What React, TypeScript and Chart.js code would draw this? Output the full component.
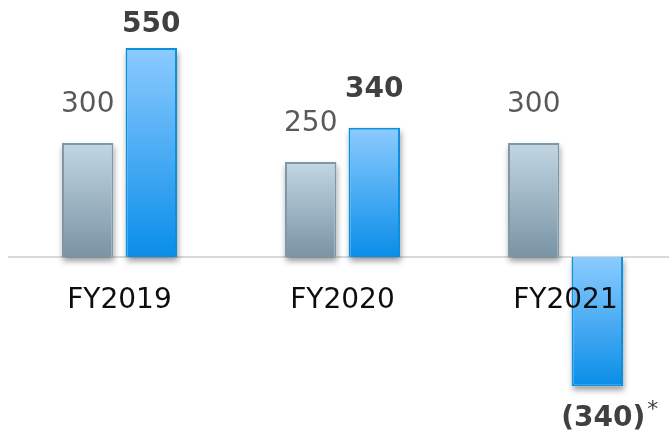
import React, { useEffect, useRef } from 'react';
import { Chart, registerables } from 'chart.js';

Chart.register(...registerables);

const categories = ['FY2019', 'FY2020', 'FY2021'];
const seriesPrior = [300, 250, 300];
const seriesCurrent = [550, 340, -340];
const currentNotes = ['', '', '*'];

const FONT = '"DejaVu Sans", Verdana, sans-serif';

function gradientFor(context: any, top: string, bottom: string) {
  const chart = context.chart;
  const { ctx, chartArea, scales } = chart;
  const v = context.raw;
  if (!chartArea || typeof v !== 'number') return top;
  const ys = scales.y;
  const y0 = ys.getPixelForValue(Math.max(v, 0));
  const y1 = ys.getPixelForValue(Math.min(v, 0));
  const g = ctx.createLinearGradient(0, y0, 0, y1);
  g.addColorStop(0, top);
  g.addColorStop(1, bottom);
  return g;
}

const zeroAndShadowPlugin = {
  id: 'zeroAndShadow',
  beforeDatasetsDraw(chart: any) {
    const { ctx, chartArea, scales } = chart;
    const y0 = scales.y.getPixelForValue(0);
    ctx.save();
    ctx.strokeStyle = '#d9d9d9';
    ctx.lineWidth = 2;
    ctx.beginPath();
    ctx.moveTo(chartArea.left, y0);
    ctx.lineTo(chartArea.right, y0);
    ctx.stroke();
    ctx.restore();
    chart.data.datasets.forEach((_ds: any, di: number) => {
      const meta = chart.getDatasetMeta(di);
      meta.data.forEach((bar: any) => {
        const { x, y, base, width } = bar.getProps(['x', 'y', 'base', 'width'], true);
        ctx.save();
        ctx.shadowColor = 'rgba(0,0,0,0.4)';
        ctx.shadowBlur = 6;
        ctx.shadowOffsetX = 1;
        ctx.shadowOffsetY = 4;
        ctx.fillStyle = '#ffffff';
        ctx.fillRect(x - width / 2, Math.min(y, base), width, Math.abs(base - y));
        ctx.restore();
      });
    });
  },
};

const labelPlugin = {
  id: 'valueLabels',
  afterDatasetsDraw(chart: any) {
    const { ctx } = chart;
    chart.data.datasets.forEach((ds: any, di: number) => {
      const meta = chart.getDatasetMeta(di);
      meta.data.forEach((bar: any, i: number) => {
        const v = ds.data[i];
        const { x, y } = bar.getProps(['x', 'y'], true);
        const bold = di === 1;
        ctx.save();
        ctx.font = `${bold ? 'bold ' : ''}28px ${FONT}`;
        ctx.fillStyle = bold ? '#404040' : '#595959';
        ctx.textAlign = 'center';
        ctx.textBaseline = 'alphabetic';
        if (v >= 0) {
          const baseline = Math.max(y - 31, 32);
          ctx.fillText(String(v), x, baseline);
        } else {
          const txt = `(${Math.abs(v)})`;
          const baseline = y + 40;
          const cx = x + 6;
          ctx.fillText(txt, cx, baseline);
          const note = bold ? currentNotes[i] : '';
          if (note) {
            const w = ctx.measureText(txt).width;
            ctx.font = `22px ${FONT}`;
            ctx.textAlign = 'left';
            ctx.fillText(note, cx + w / 2 + 2, baseline - 10);
          }
        }
        ctx.restore();
      });
    });
  },
};

export default function App() {
  const ref = useRef<HTMLCanvasElement | null>(null);

  useEffect(() => {
    if (!ref.current) return;
    const chart = new Chart(ref.current, {
      type: 'bar',
      data: {
        labels: categories,
        datasets: [
          {
            label: 'Prior',
            data: seriesPrior,
            backgroundColor: (c: any) => gradientFor(c, '#c2d6e3', '#7a94a5'),
            borderColor: '#7f97a6',
            borderWidth: 2,
            categoryPercentage: 0.57,
            barPercentage: 0.81,
          },
          {
            label: 'Current',
            data: seriesCurrent,
            backgroundColor: (c: any) => gradientFor(c, '#8ccbff', '#0a8de8'),
            borderColor: '#0b8fdf',
            borderWidth: 2,
            categoryPercentage: 0.57,
            barPercentage: 0.81,
          },
        ],
      },
      options: {
        responsive: false,
        animation: false,
        layout: { padding: { left: 8, right: 0, top: 0, bottom: 0 } },
        plugins: {
          legend: { display: false },
          tooltip: { enabled: false },
        },
        scales: {
          x: {
            position: { y: 0 } as any,
            offset: true,
            grid: { display: false, drawTicks: false },
            border: { display: false },
            ticks: {
              z: 1,
              padding: 27,
              color: '#0d0d0d',
              font: { family: FONT, size: 28 },
              maxRotation: 0,
              autoSkip: false,
            },
          },
          y: {
            display: false,
            min: -463,
            max: 676,
          },
        },
      },
      plugins: [zeroAndShadowPlugin, labelPlugin],
    });
    return () => chart.destroy();
  }, []);

  return (
    <div style={{ position: 'fixed', left: 0, top: 0, width: 669, height: 433, overflow: 'hidden', background: '#fff' }}>
      <canvas ref={ref} width={677} height={433} style={{ display: 'block', width: 677, height: 433 }} />
    </div>
  );
}
